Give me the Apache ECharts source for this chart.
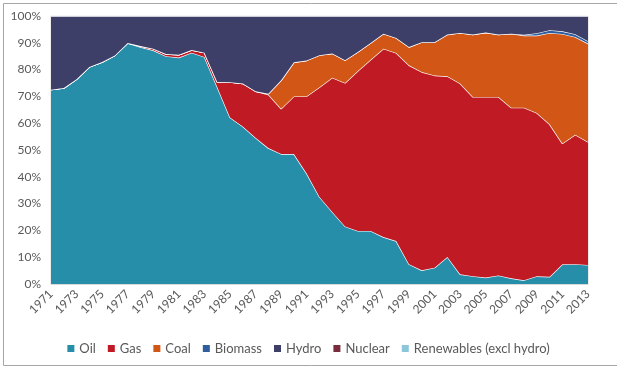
<!DOCTYPE html>
<html>
<head>
<meta charset="utf-8">
<script src="https://cdn.jsdelivr.net/npm/echarts@6/dist/echarts.min.js"></script>
<style>
html,body{margin:0;padding:0;background:#fff;}
#c{width:617px;height:366px;}
</style>
</head>
<body>
<div id="c"></div>
<script>
var years = [];
for (var y = 1971; y <= 2013; y++) years.push(String(y));

var oil = [72.5,73.1,76.4,81.0,82.8,85.3,89.9,88.4,87.2,85.0,84.5,86.3,84.7,73.5,62.1,58.8,54.6,50.7,48.5,48.5,41.2,32.5,26.9,21.5,19.8,19.8,17.5,16.0,7.4,5.1,6.1,10.1,3.6,2.9,2.4,3.2,2.1,1.4,2.9,2.7,7.4,7.4,7.1];
var gas = [0,0,0,0,0,0,0,0.4,0.6,0.8,1.0,1.0,1.6,1.9,13.2,16.0,17.3,20.0,16.9,21.5,28.9,40.9,50.1,53.5,59.7,63.9,70.3,70.2,74.2,74.0,71.7,67.4,71.2,66.9,67.4,66.6,63.7,64.4,60.9,56.9,45.0,48.3,45.9];
var coal = [0,0,0,0,0,0,0,0,0,0,0,0,0,0,0,0,0,0.3,10.6,12.7,13.3,12.0,9.0,8.5,7.1,6.2,5.6,5.6,6.8,11.1,12.4,15.6,18.9,23.3,24.0,23.3,27.6,26.9,28.9,34.1,40.9,36.5,36.7];
var biomass = [0,0,0,0,0,0,0,0,0,0,0,0,0,0,0,0,0,0,0,0,0,0,0,0,0,0,0,0,0,0,0,0,0,0,0,0,0,0.3,0.9,1.0,1.0,1.0,0.9];
var hydro = [27.5,26.9,23.6,19.0,17.2,14.7,10.1,11.2,12.2,14.2,14.5,12.7,13.7,24.6,24.7,25.2,28.1,29.0,24.0,17.3,16.6,14.6,14.0,16.5,13.4,10.1,6.6,8.2,11.6,9.8,9.8,6.9,6.3,6.9,6.2,6.9,6.6,7.0,6.4,5.3,5.7,6.8,9.4];
var nuclear = [0,0,0,0,0,0,0,0,0,0,0,0,0,0,0,0,0,0,0,0,0,0,0,0,0,0,0,0,0,0,0,0,0,0,0,0,0,0,0,0,0,0,0];
var renewables = [0,0,0,0,0,0,0,0,0,0,0,0,0,0,0,0,0,0,0,0,0,0,0,0,0,0,0,0,0,0,0,0,0,0,0,0,0,0,0,0,0,0,0];

var names = ['Oil','Gas','Coal','Biomass','Hydro','Nuclear','Renewables (excl hydro)'];
var colors = ['#268EA9','#C01A24','#D25716','#2E5E9E','#3E3F68','#7A2C3C','#8DC5DA'];
var dataList = [oil, gas, coal, biomass, hydro, nuclear, renewables];

var FONT = 'Lato';
var series = names.map(function(n, i){
  return {
    name: n, type: 'line', stack: 'total', data: dataList[i],
    symbol: 'none', smooth: false,
    lineStyle: {color: '#ffffff', width: (i >= 5 ? 0 : 1.3)},
    itemStyle: {color: colors[i]},
    areaStyle: {color: colors[i], opacity: 1},
    z: 2 + i
  };
});

var chart = echarts.init(document.getElementById('c'), null, {renderer: 'canvas'});
chart.setOption({
  animation: false,
  backgroundColor: '#ffffff',
  textStyle: {fontFamily: FONT},
  color: colors,
  graphic: [{
    type: 'rect', left: 1, top: 1, z: 100, silent: true,
    shape: {x: 0, y: 0, width: 614, height: 362},
    style: {fill: 'none', stroke: '#A6A6A6', lineWidth: 1}
  }],
  grid: {left: 51, right: 29, top: 16, bottom: 82, show: true, borderColor: '#D9D9D9', borderWidth: 1},
  legend: {
    data: names, left: 'center', top: 337,
    itemWidth: 7, itemHeight: 7, itemGap: 12, icon: 'rect',
    textStyle: {fontFamily: FONT, fontSize: 13, color: '#595959'}
  },
  xAxis: {
    type: 'category', data: years, boundaryGap: false,
    axisLine: {show: true, lineStyle: {color: '#D9D9D9'}},
    axisTick: {show: false},
    axisLabel: {interval: 1, rotate: 45, margin: 8, fontFamily: FONT, fontSize: 12, color: '#595959'},
    splitLine: {show: false}
  },
  yAxis: {
    type: 'value', min: 0, max: 100, interval: 10,
    axisLine: {show: true, lineStyle: {color: '#D9D9D9'}},
    axisTick: {show: false},
    axisLabel: {formatter: '{value}%', margin: 10, fontFamily: FONT, fontSize: 12, color: '#595959'},
    splitLine: {show: false}
  },
  series: series
});
</script>
</body>
</html>
